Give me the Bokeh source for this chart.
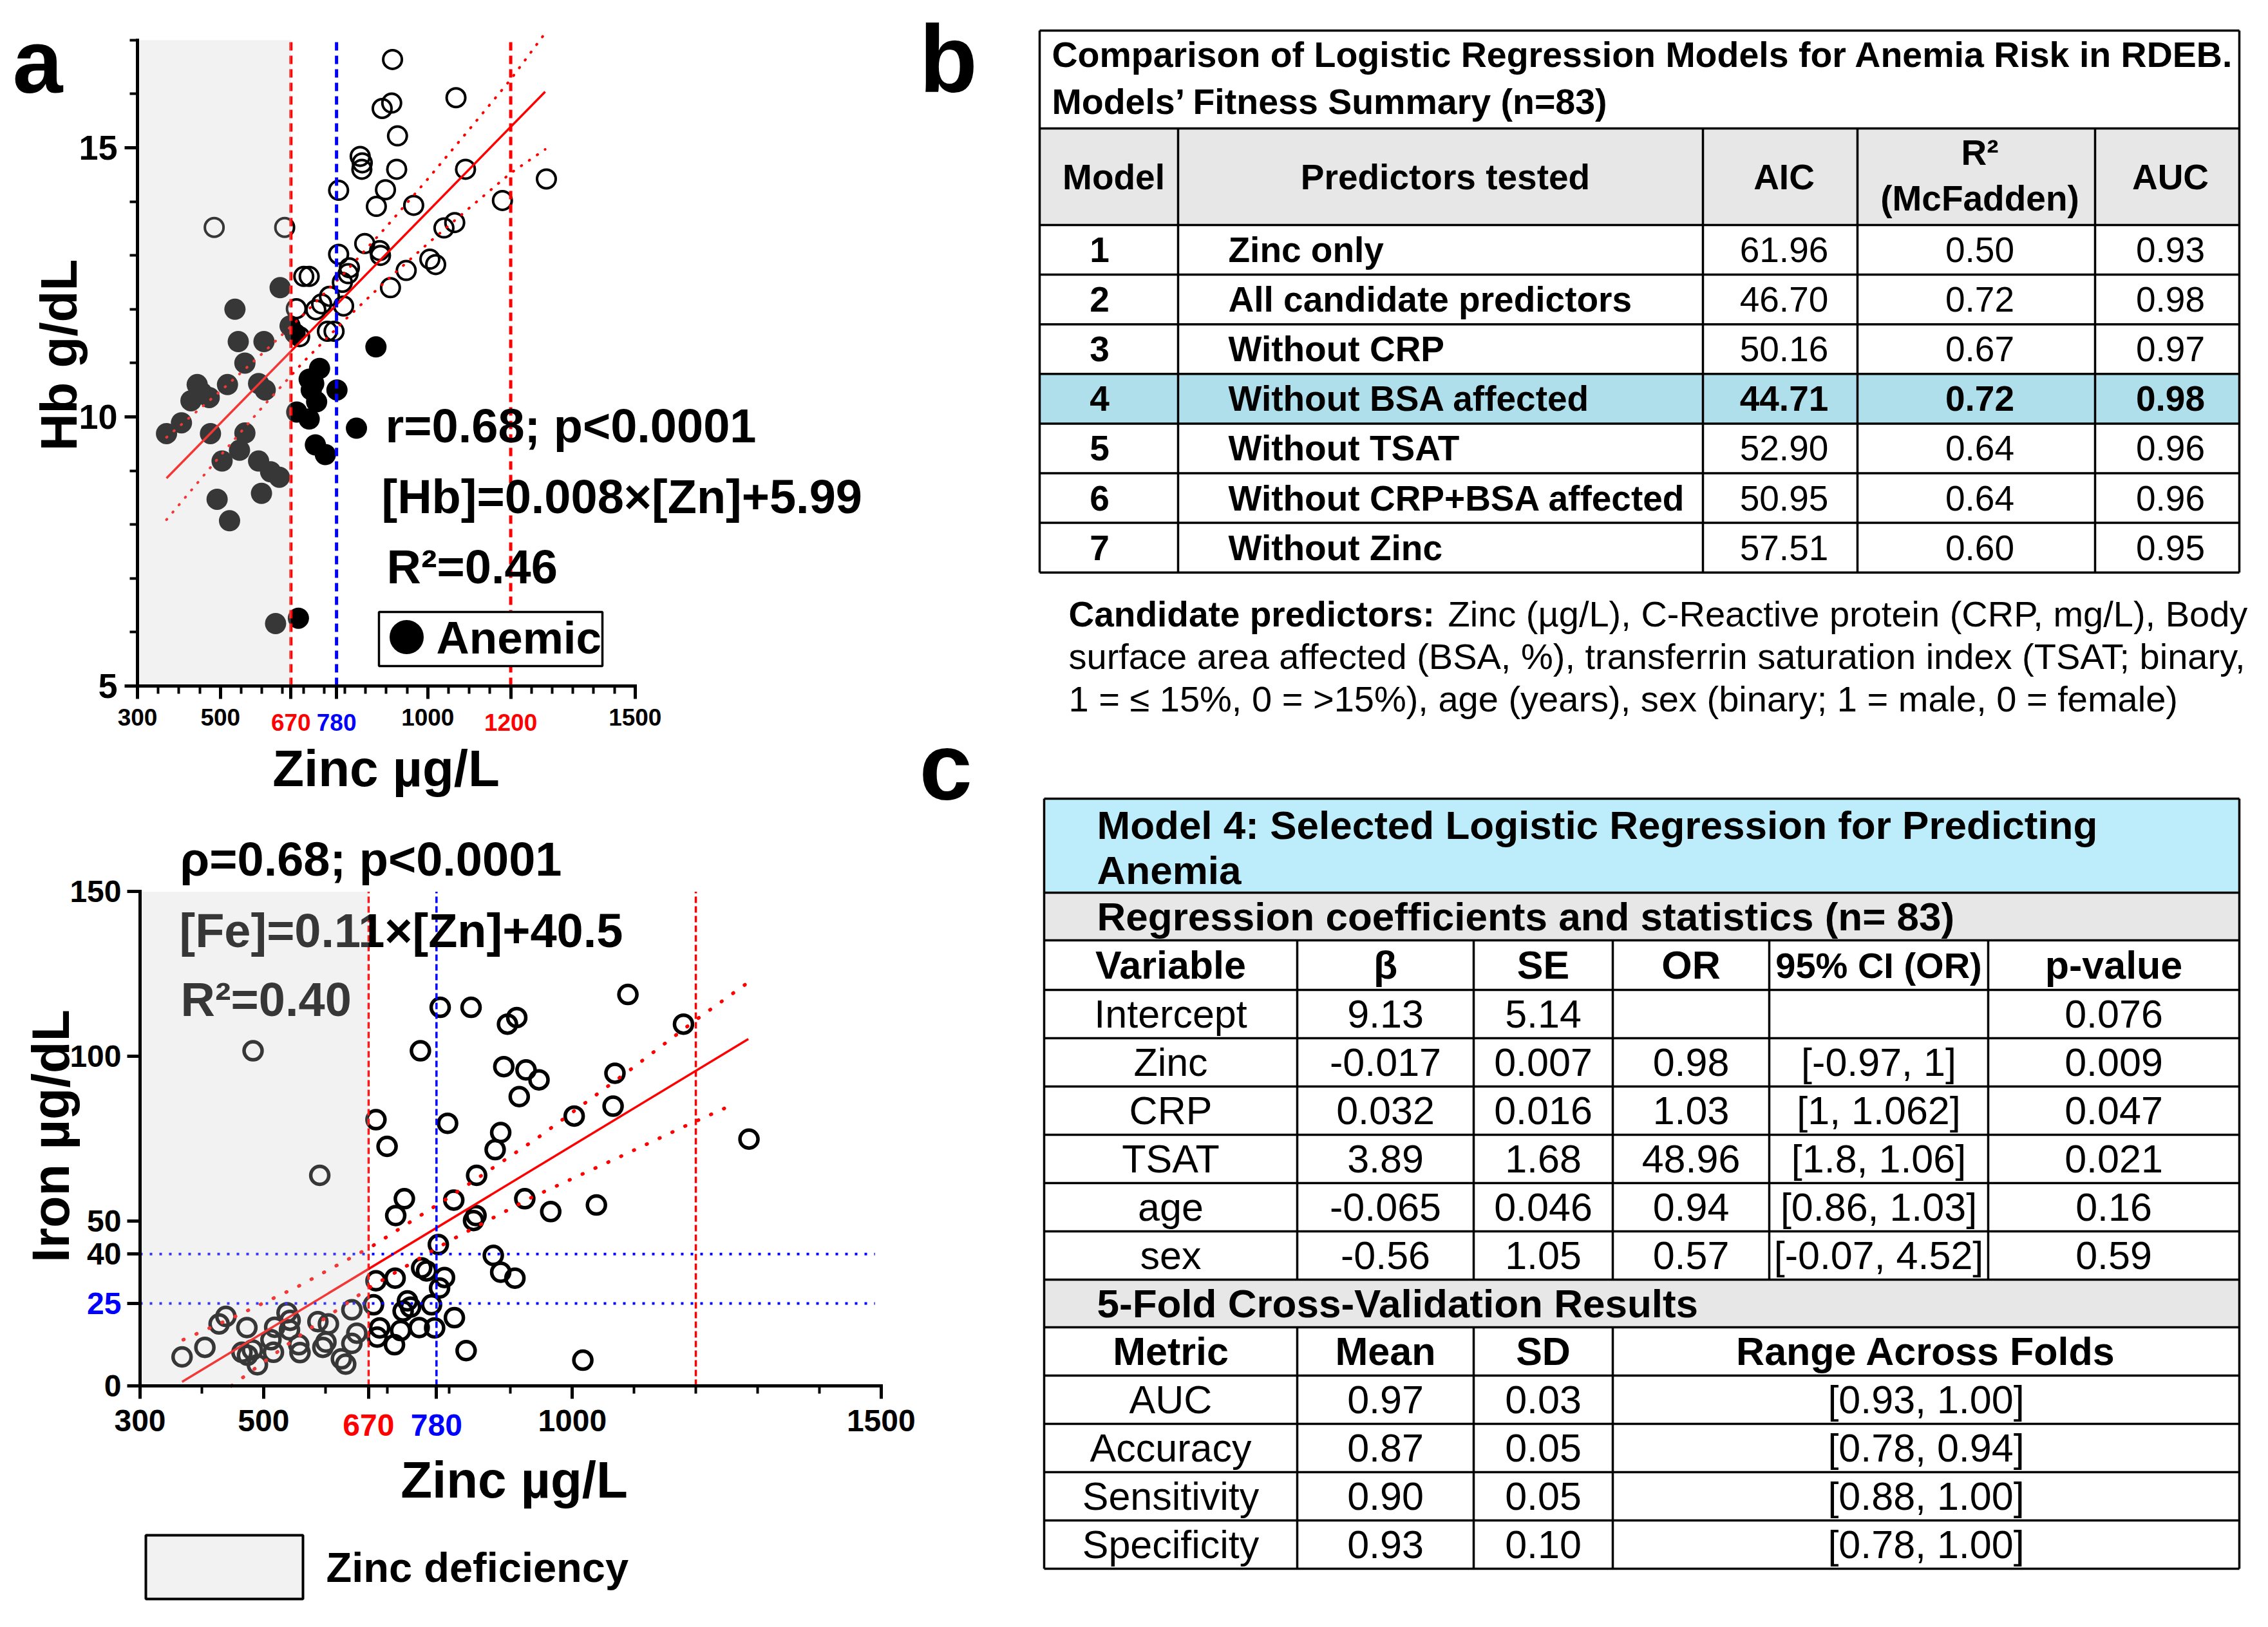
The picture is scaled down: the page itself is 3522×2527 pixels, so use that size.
import math
from bokeh.plotting import figure
from bokeh.models import Range1d, FixedTicker
from bokeh.layouts import row, column
from bokeh.embed import file_html
from bokeh.resources import INLINE
from bokeh.core.properties import value

FONT = "Liberation Sans"

# ----------------------------- DATA -----------------------------
# Panel a (top): Hb vs Zinc
hb_normal_zinc = [915, 1068, 890, 913, 927, 837, 842, 841, 925, 1091, 1286, 785, 898, 876, 966,
                  1180, 485, 655, 1039, 1065, 848, 884, 886, 785, 1005, 1019, 948, 811, 808, 794,
                  910, 701, 714, 683, 730, 744, 763, 797, 758, 774, 691]
hb_normal_hb = [16.64, 15.93, 15.73, 15.83, 15.22, 14.84, 14.72, 14.60, 14.60, 14.60, 14.42, 14.21,
                14.22, 13.91, 13.93, 14.02, 13.52, 13.52, 13.51, 13.61, 13.22, 13.09, 13.00, 13.02,
                12.93, 12.83, 12.72, 12.77, 12.66, 12.50, 12.40, 12.61, 12.61, 12.01, 11.99, 12.10,
                12.24, 12.06, 11.59, 11.59, 11.49]
hb_anemic_zinc = [644, 535, 543, 605, 559, 444, 517, 429, 473, 455, 592, 608, 406, 370, 476, 559,
                  546, 504, 592, 621, 642, 492, 599, 522, 633, 668, 680, 875, 739, 714, 719, 781,
                  732, 684, 714, 828, 729, 753, 688, 725]
hb_anemic_hb = [12.40, 12.00, 11.40, 11.40, 11.00, 10.60, 10.60, 10.30, 10.36, 10.45, 10.62, 10.50,
                9.89, 9.69, 9.69, 9.70, 9.38, 9.18, 9.18, 8.98, 8.88, 8.47, 8.58, 8.07, 6.16, 11.69,
                11.55, 11.30, 10.90, 10.70, 10.50, 10.50, 10.28, 10.09, 9.96, 9.79, 9.48, 9.30, 6.26,
                10.62]
hb_fit_zinc = [370, 1283]
hb_fit_hb = [8.86, 16.04]
hb_band_zinc = [370, 500, 600, 700, 800, 900, 1000, 1100, 1200, 1283]
hb_band_upper = [9.62, 10.48, 11.17, 11.90, 12.68, 13.53, 14.42, 15.34, 16.27, 17.13]
hb_band_lower = [8.09, 9.28, 10.17, 11.02, 11.80, 12.53, 13.22, 13.88, 14.53, 14.97]

# Panel a (bottom): Iron vs Zinc
fe_zinc = [368, 405, 428, 439, 473, 465, 474, 482, 490, 512, 518, 516, 538, 543, 542, 557, 559,
           588, 605, 601, 596, 643, 651, 643, 626, 633, 483, 591,
           786, 836, 910, 895, 754, 889, 925, 946, 914, 682, 798, 700, 884, 875, 845, 728, 714,
           808, 923, 844, 840, 783, 872, 884, 907, 682, 713, 756, 764, 793, 785, 678, 772, 733,
           738, 726, 809, 688, 684, 722, 752, 777, 712, 828, 1090, 1180, 1069, 1066, 1003, 1286,
           965, 1039, 1017]
fe_iron = [8.8, 11.7, 18.8, 21.1, 17.7, 10.2, 9.3, 10.9, 6.4, 14.0, 17.8, 10.2, 22.2, 19.9, 17.0,
           12.5, 10.1, 19.5, 18.8, 13.3, 11.7, 23.1, 16.0, 12.9, 8.2, 6.6, 101.7, 63.9,
           114.9, 114.9, 111.8, 109.8, 101.7, 96.9, 95.9, 92.9, 87.8, 80.8, 79.7, 72.7, 76.9,
           71.7, 63.9, 56.8, 51.7, 56.4, 56.8, 51.7, 50.2, 42.9, 39.6, 34.5, 32.7, 31.9, 32.7,
           35.8, 34.9, 32.9, 29.7, 24.6, 24.6, 25.8, 23.9, 22.7, 20.7, 17.6, 14.8, 16.8, 17.7,
           17.6, 12.5, 10.7, 118.8, 109.8, 94.9, 84.9, 81.9, 74.9, 52.9, 54.9, 7.8]
fe_fit_zinc = [368, 1285]
fe_fit_iron = [1.2, 105.3]
fe_band_upper_zinc = [370, 450, 555, 675, 800, 944, 1092, 1201, 1285]
fe_band_upper = [14.0, 20.7, 30.1, 42.3, 57.2, 75.3, 95.7, 111.2, 122.5]
fe_band_lower_zinc = [448, 555, 674, 800, 934, 1080, 1182, 1266]
fe_band_lower = [0.0, 14.8, 30.1, 43.9, 57.2, 69.8, 78.8, 85.9]

zinc_deficiency = [300, 670]
zinc_red_cuts = [670, 1200]
zinc_blue_cuts = [780]
iron_blue_cuts = [25, 40]

hb_x_ticks = [300, 500, 670, 780, 1000, 1200, 1500]
hb_y_ticks = [5, 10, 15]
fe_x_ticks = [300, 500, 670, 780, 1000, 1500]
fe_y_ticks = [0, 25, 40, 50, 100, 150]

# Panel b table
b_title = ["Comparison of Logistic Regression Models for Anemia Risk in RDEB.",
           "Models\u2019 Fitness Summary (n=83)"]
b_models = ["1", "2", "3", "4", "5", "6", "7"]
b_predictors = ["Zinc only", "All candidate predictors", "Without CRP", "Without BSA affected",
                "Without TSAT", "Without CRP+BSA affected", "Without Zinc"]
b_aic = ["61.96", "46.70", "50.16", "44.71", "52.90", "50.95", "57.51"]
b_r2 = ["0.50", "0.72", "0.67", "0.72", "0.64", "0.64", "0.60"]
b_auc = ["0.93", "0.98", "0.97", "0.98", "0.96", "0.96", "0.95"]
b_selected = 3
b_note_bold = "Candidate predictors:"
b_note = ["Zinc (\u00b5g/L), C-Reactive protein (CRP, mg/L), Body",
          "surface area affected (BSA, %), transferrin saturation index (TSAT; binary,",
          "1 = \u2264 15%, 0 = >15%), age (years), sex (binary; 1 = male, 0 = female)"]

# Panel c tables
c_title = ["Model 4: Selected Logistic Regression for Predicting", "Anemia"]
c_sec1 = "Regression coefficients and statistics (n= 83)"
c_head1 = ["Variable", "\u03b2", "SE", "OR", "95% CI (OR)", "p-value"]
c_var = ["Intercept", "Zinc", "CRP", "TSAT", "age", "sex"]
c_beta = ["9.13", "-0.017", "0.032", "3.89", "-0.065", "-0.56"]
c_se = ["5.14", "0.007", "0.016", "1.68", "0.046", "1.05"]
c_or = ["", "0.98", "1.03", "48.96", "0.94", "0.57"]
c_ci = ["", "[-0.97, 1]", "[1, 1.062]", "[1.8, 1.06]", "[0.86, 1.03]", "[-0.07, 4.52]"]
c_p = ["0.076", "0.009", "0.047", "0.021", "0.16", "0.59"]
c_sec2 = "5-Fold Cross-Validation Results"
c_head2 = ["Metric", "Mean", "SD", "Range Across Folds"]
c_metric = ["AUC", "Accuracy", "Sensitivity", "Specificity"]
c_mean = ["0.97", "0.87", "0.90", "0.93"]
c_sd = ["0.03", "0.05", "0.05", "0.10"]
c_range = ["[0.93, 1.00]", "[0.78, 0.94]", "[0.88, 1.00]", "[0.78, 1.00]"]

# ----------------------------- HELPERS -----------------------------
OVER_COLOR = "#cecece"
OVER_ALPHA = 0.267
NO_BORDER = dict(min_border=0, min_border_left=0, min_border_right=0, min_border_top=0,
                 min_border_bottom=0)


def base_fig(**kw):
    p = figure(output_backend="svg", toolbar_location=None, **NO_BORDER, **kw)
    p.outline_line_color = None
    p.background_fill_color = "white"
    p.border_fill_color = "white"
    if p.xgrid:
        p.xgrid.visible = False
    if p.ygrid:
        p.ygrid.visible = False
    return p


def style_axis(ax, lab_size, standoff):
    ax.axis_line_width = 5
    ax.axis_line_color = "black"
    ax.axis_line_cap = "square"
    ax.major_tick_line_width = 5
    ax.minor_tick_line_width = 4
    ax.major_tick_in = 0
    ax.major_tick_out = 20
    ax.minor_tick_in = 0
    ax.minor_tick_out = 12
    ax.major_label_text_font = FONT
    ax.major_label_text_font_style = "bold"
    ax.major_label_text_font_size = f"{lab_size}px"
    ax.major_label_text_color = "black"
    ax.major_label_standoff = standoff


def txt(p, xs, ys, texts, size, style="normal", align="center", baseline="middle",
        color="black", angle=0.0):
    p.text(x=xs, y=ys, text=texts, text_font=value(FONT), text_font_size=f"{size}px",
           text_font_style=style, text_align=align, text_baseline=baseline, text_color=color,
           angle=angle)


# ----------------------------- PANEL a: TOP -----------------------------
# page pixel -> data helpers (used only to place annotations)
def ax_(px):
    return 300 + (px - 221) / 0.644


def ay_(py):
    return 5 + (1073 - py) / 83.6


pa = base_fig(width=1422, height=1262, x_range=Range1d(ax_(8), ax_(1430)),
              y_range=Range1d(ay_(1270), ay_(8)))
style_axis(pa.xaxis[0], 37, 15)
style_axis(pa.yaxis[0], 54, 11)
pa.xaxis.fixed_location = 5
pa.xaxis.bounds = (300, 1500)
pa.yaxis.fixed_location = 300
pa.yaxis.bounds = (5, 17)
pa.xaxis.ticker = FixedTicker(ticks=hb_x_ticks, minor_ticks=list(range(300, 1501, 50)))
pa.xaxis.major_label_overrides = {670: "", 780: "", 1200: ""}
pa.yaxis.ticker = FixedTicker(ticks=hb_y_ticks, minor_ticks=list(range(5, 18)))

pa.scatter(hb_normal_zinc, hb_normal_hb, marker="circle", size=29, fill_color=None,
           line_color="black", line_width=4)
pa.scatter(hb_anemic_zinc, hb_anemic_hb, marker="circle", size=33, fill_color="black",
           line_color=None)
pa.line(hb_fit_zinc, hb_fit_hb, line_color="red", line_width=3.5)
for ys in (hb_band_upper, hb_band_lower):
    pa.line(hb_band_zinc, ys, line_color="red", line_width=4, line_dash="1 14", line_cap="round")
pa.segment(x0=zinc_red_cuts, x1=zinc_red_cuts, y0=[5] * len(zinc_red_cuts),
           y1=[17] * len(zinc_red_cuts), line_color="red", line_width=5, line_dash="13 8")
pa.segment(x0=zinc_blue_cuts, x1=zinc_blue_cuts, y0=[5], y1=[17], line_color="blue",
           line_width=5, line_dash="13 8")
# legend box
pa.quad(left=[ax_(596)], right=[ax_(943)], bottom=[ay_(1042)], top=[ay_(958)],
        fill_color="white", line_color="black", line_width=3.5)
pa.scatter([ax_(639)], [ay_(997)], marker="circle", size=53, fill_color="black", line_color=None)
txt(pa, [ax_(685)], [ay_(998)], ["Anemic"], 71, "bold", "left")
# annotations
txt(pa, [ax_(606), ax_(600), ax_(608)], [ay_(669), ay_(779), ay_(888)],
    ["r=0.68; p<0.0001", "[Hb]=0.008\u00d7[Zn]+5.99", "R\u00b2=0.46"], 74, "bold", "left")
# zinc deficiency shading (drawn over, greying what lies beneath)
pa.quad(left=[zinc_deficiency[0]], right=[zinc_deficiency[1]], bottom=[5], top=[17],
        fill_color=OVER_COLOR, fill_alpha=OVER_ALPHA, line_color=None)
# coloured threshold tick labels
txt(pa, [670, 780, 1200], [ay_(1129)] * 3, ["670", "780", "1200"], 37, "bold",
    color=["red", "blue", "red"])
# axis titles and panel letter
txt(pa, [ax_(607)], [ay_(1201)], ["Zinc \u00b5g/L"], 80, "bold")
txt(pa, [ax_(99)], [ay_(559)], ["Hb g/dL"], 80, "bold", angle=math.pi / 2)
txt(pa, [ax_(27)], [ay_(103)], ["a"], 140, "bold", "left")


# ----------------------------- PANEL a: BOTTOM -----------------------------
def bx_(px):
    return 300 + (px - 225) / 0.959


def by_(py):
    return (2160 - py) / 5.117


pb = base_fig(width=1422, height=1249, x_range=Range1d(bx_(8), bx_(1430)),
              y_range=Range1d(by_(2519), by_(1270)))
style_axis(pb.xaxis[0], 48, 17)
style_axis(pb.yaxis[0], 48, 9)
pb.xaxis.fixed_location = 0
pb.xaxis.bounds = (300, 1500)
pb.yaxis.fixed_location = 300
pb.yaxis.bounds = (0, 150)
pb.xaxis.ticker = FixedTicker(ticks=fe_x_ticks, minor_ticks=list(range(300, 1501, 100)))
pb.xaxis.major_label_overrides = {670: "", 780: ""}
pb.yaxis.ticker = FixedTicker(ticks=fe_y_ticks)
pb.yaxis.major_label_overrides = {25: ""}

pb.scatter(fe_zinc, fe_iron, marker="circle", size=28, fill_color=None, line_color="black",
           line_width=5.5)
pb.line(fe_fit_zinc, fe_fit_iron, line_color="red", line_width=3.5)
pb.line(fe_band_upper_zinc, fe_band_upper, line_color="red", line_width=5.5,
        line_dash="1 21", line_cap="round")
pb.line(fe_band_lower_zinc, fe_band_lower, line_color="red", line_width=5.5,
        line_dash="1 21", line_cap="round")
pb.segment(x0=zinc_red_cuts, x1=zinc_red_cuts, y0=[0] * 2, y1=[150] * 2, line_color="red",
           line_width=3.5, line_dash="10 5")
pb.segment(x0=zinc_blue_cuts, x1=zinc_blue_cuts, y0=[0], y1=[150], line_color="blue",
           line_width=3.5, line_dash="10 5")
pb.segment(x0=[300] * 2, x1=[1490] * 2, y0=iron_blue_cuts, y1=iron_blue_cuts, line_color="blue",
           line_width=4, line_dash="4 11")
txt(pb, [bx_(286), bx_(288)], [by_(1453), by_(1560)],
    ["[Fe]=0.11\u00d7[Zn]+40.5", "R\u00b2=0.40"], 74, "bold", "left")
pb.quad(left=[zinc_deficiency[0]], right=[zinc_deficiency[1]], bottom=[0], top=[150],
        fill_color=OVER_COLOR, fill_alpha=OVER_ALPHA, line_color=None)

txt(pb, [bx_(287)], [by_(1342)], ["\u03c1=0.68; p<0.0001"], 74, "bold", "left")
txt(pb, [670, 780], [by_(2221)] * 2, ["670", "780"], 48, "bold", color=["red", "blue"])
txt(pb, [bx_(196)], [25], ["25"], 48, "bold", "right", color="blue")
txt(pb, [bx_(806)], [by_(2306)], ["Zinc \u00b5g/L"], 80, "bold")
txt(pb, [bx_(86)], [by_(1772)], ["Iron \u00b5g/dL"], 81, "bold", angle=math.pi / 2)
# legend for the shading
pb.quad(left=[bx_(234)], right=[bx_(478)], top=[by_(2392)], bottom=[by_(2491)],
        fill_color="#f2f2f2", line_color="black", line_width=4)
txt(pb, [bx_(514)], [by_(2442)], ["Zinc deficiency"], 65, "bold", "left")

# ----------------------------- PANELS b, c -----------------------------
pr = base_fig(width=2084, height=2511, x_range=Range1d(1430, 3514), y_range=Range1d(2519, 8),
              x_axis_type=None, y_axis_type=None)


def hlines(p, ys, x0, x1, w=3.5):
    p.segment(x0=[x0] * len(ys), x1=[x1] * len(ys), y0=ys, y1=ys, line_color="black", line_width=w)


def vlines(p, xs, y0, y1, w=3.5):
    p.segment(x0=xs, x1=xs, y0=[y0] * len(xs), y1=[y1] * len(xs), line_color="black", line_width=w)


GRAY = "#e7e7e7"
# --- table b geometry
bx_edges = [1622, 1837, 2652, 2892, 3261, 3485]
b_top, b_head_top, b_head_bot = 55, 207, 357
b_row_h = 77.1
b_rows = [b_head_bot + b_row_h * i for i in range(len(b_models) + 1)]
pr.quad(left=[bx_edges[0]], right=[bx_edges[-1]], top=[b_head_top], bottom=[b_head_bot],
        fill_color=GRAY, line_color=None)
pr.quad(left=[bx_edges[0]], right=[bx_edges[-1]], top=[b_rows[b_selected]],
        bottom=[b_rows[b_selected + 1]], fill_color="#b0dfec", line_color=None)
hlines(pr, [b_top, b_head_top] + b_rows, bx_edges[0], bx_edges[-1])
vlines(pr, [bx_edges[0], bx_edges[-1]], b_top, b_rows[-1])
vlines(pr, bx_edges[1:-1], b_head_top, b_rows[-1])
txt(pr, [1641, 1641], [92, 165], b_title, 55.5, "bold", "left")
txt(pr, [1737, 2252, 2778, 3378], [282] * 4, ["Model", "Predictors tested", "AIC", "AUC"], 55,
    "bold")
txt(pr, [3082, 3082], [244, 315], ["R\u00b2", "(McFadden)"], 55, "bold")
b_cy = [(b_rows[i] + b_rows[i + 1]) / 2 for i in range(len(b_models))]
txt(pr, [1715] * 7, b_cy, b_models, 55, "bold")
txt(pr, [1915] * 7, b_cy, b_predictors, 55, "bold", "left")
for col, xc in ((b_aic, 2778), (b_r2, 3082), (b_auc, 3378)):
    normal_idx = [i for i in range(len(col)) if i != b_selected]
    txt(pr, [xc] * len(normal_idx), [b_cy[i] for i in normal_idx], [col[i] for i in normal_idx], 55)
    txt(pr, [xc], [b_cy[b_selected]], [col[b_selected]], 55, "bold")
txt(pr, [1667], [961], [b_note_bold], 55, "bold", "left")
txt(pr, [2256, 1667, 1667], [961, 1027, 1093], b_note, 56, "normal", "left")

# --- table c geometry
cx_edges = [1629, 2022, 2296, 2512, 2755, 3095, 3485]
c_top, c_title_bot, c_sec1_bot, c_head1_bot = 1248, 1394, 1468, 1545
c_row_h = 75
c_rows1 = [c_head1_bot + c_row_h * i for i in range(len(c_var) + 1)]
c_sec2_bot = c_rows1[-1] + 74
c_head2_bot = c_sec2_bot + 75
c_rows2 = [c_head2_bot + c_row_h * i for i in range(len(c_metric) + 1)]
pr.quad(left=[cx_edges[0]], right=[cx_edges[-1]], top=[c_top], bottom=[c_title_bot],
        fill_color="#bdedfa", line_color=None)
pr.quad(left=[cx_edges[0]] * 2, right=[cx_edges[-1]] * 2, top=[c_title_bot, c_rows1[-1]],
        bottom=[c_sec1_bot, c_sec2_bot], fill_color=GRAY, line_color=None)
hlines(pr, [c_top, c_title_bot, c_sec1_bot] + c_rows1 + [c_sec2_bot] + c_rows2,
       cx_edges[0], cx_edges[-1])
vlines(pr, [cx_edges[0], cx_edges[-1]], c_top, c_rows2[-1])
vlines(pr, cx_edges[1:-1], c_sec1_bot, c_rows1[-1])
vlines(pr, cx_edges[1:4], c_sec2_bot, c_rows2[-1])
txt(pr, [1711, 1711], [1289, 1359], c_title, 62, "bold", "left")
txt(pr, [1711], [(c_title_bot + c_sec1_bot) / 2], [c_sec1], 62, "bold", "left")
c_xc = [(cx_edges[i] + cx_edges[i + 1]) / 2 for i in range(6)]
h1y = (c_sec1_bot + c_head1_bot) / 2
txt(pr, [c_xc[i] for i in (0, 1, 2, 3, 5)], [h1y] * 5,
    [c_head1[i] for i in (0, 1, 2, 3, 5)], 61, "bold")
txt(pr, [c_xc[4]], [h1y], [c_head1[4]], 56, "bold")
c_cy1 = [(c_rows1[i] + c_rows1[i + 1]) / 2 for i in range(len(c_var))]
for k, col in enumerate((c_var, c_beta, c_se, c_or, c_ci, c_p)):
    txt(pr, [c_xc[k]] * len(col), c_cy1, col, 61)
txt(pr, [1711], [(c_rows1[-1] + c_sec2_bot) / 2], [c_sec2], 62, "bold", "left")
c2_xc = c_xc[:3] + [(cx_edges[3] + cx_edges[-1]) / 2]
h2y = (c_sec2_bot + c_head2_bot) / 2
txt(pr, c2_xc, [h2y] * 4, c_head2, 61, "bold")
c_cy2 = [(c_rows2[i] + c_rows2[i + 1]) / 2 for i in range(len(c_metric))]
for k, col in enumerate((c_metric, c_mean, c_sd, c_range)):
    txt(pr, [c2_xc[k]] * len(col), c_cy2, col, 61)

txt(pr, [1435, 1435], [99, 1198], ["b", "c"], 148, "bold", "left")

layout = row(column(pa, pb, spacing=0), pr, spacing=0)
open("out.html", "w").write(file_html(layout, INLINE))
